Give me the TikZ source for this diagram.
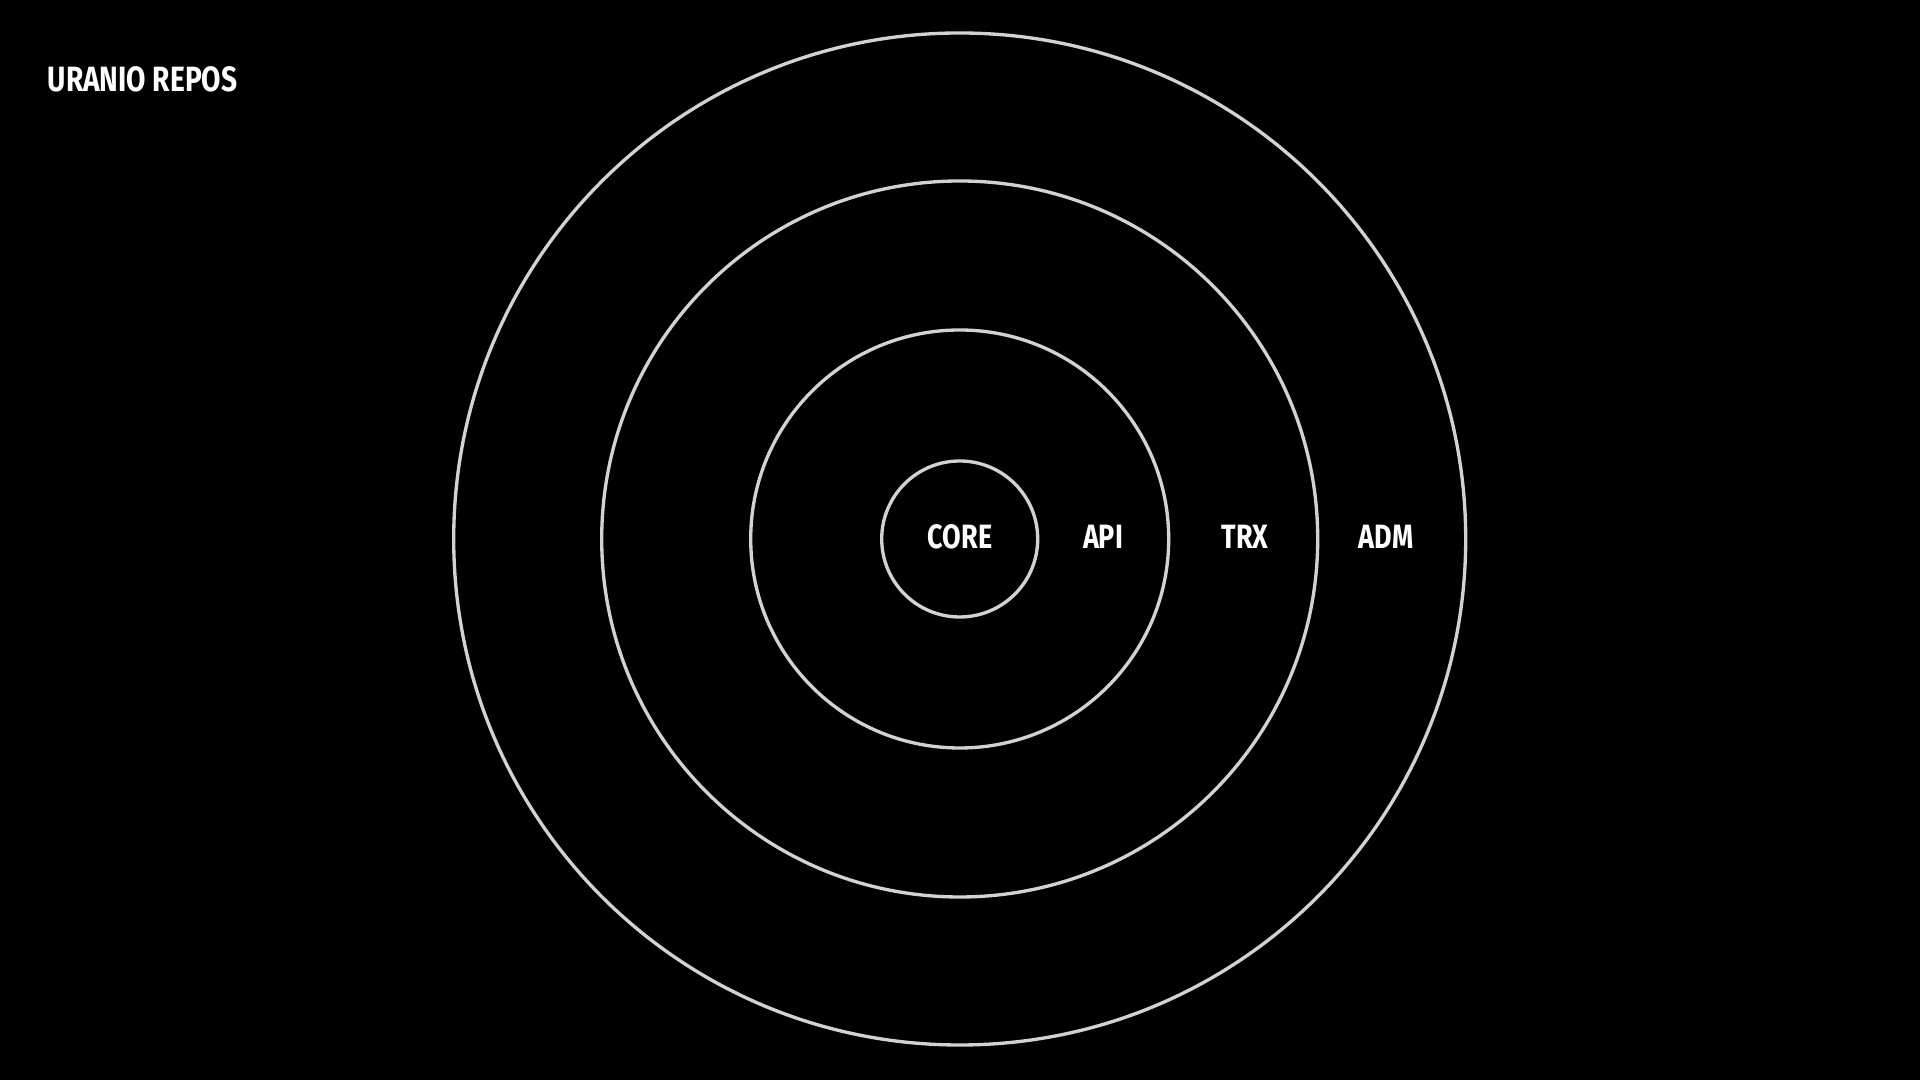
\documentclass[tikz,border=0pt]{standalone}
\usepackage{fontspec}
\setmainfont[FakeStretch=0.8]{Fira Sans}
\usepackage{tikz}
\usetikzlibrary{positioning}

\definecolor{ringgrey}{HTML}{D2D2D2}
\tikzset{
  ring/.style={circle,draw=ringgrey,line width=0.95pt,inner sep=0pt},
  layer/.style={text=white,font=\fontsize{9.6pt}{11pt}\selectfont\bfseries,inner sep=0pt}
}

\begin{document}
\begin{tikzpicture}
\useasboundingbox (0,0) rectangle (19.2,10.8);
\fill[black] (0,0) rectangle (19.2,10.8);
\coordinate (c) at (9.597,5.41);

\node[ring,minimum size=10.12cm] (adm) at (c) {};
\node[ring,minimum size=7.16cm] (trx) at (c) {};
\node[ring,minimum size=4.18cm] (api) at (c) {};
\node[ring,minimum size=1.56cm] (core) at (c) {};

\node[layer] (corelbl) at (9.60,5.435) {CORE};
\node[layer] (apilbl) at (11.03,5.435) {API};
\node[layer] (trxlbl) at (12.45,5.435) {TRX};
\node[layer] (admlbl) at (13.86,5.435) {ADM};

\node[layer,anchor=west,font=\fontsize{10pt}{12pt}\selectfont\bfseries] (title) at (0.47,10.01) {URANIO REPOS};
\end{tikzpicture}
\end{document}
